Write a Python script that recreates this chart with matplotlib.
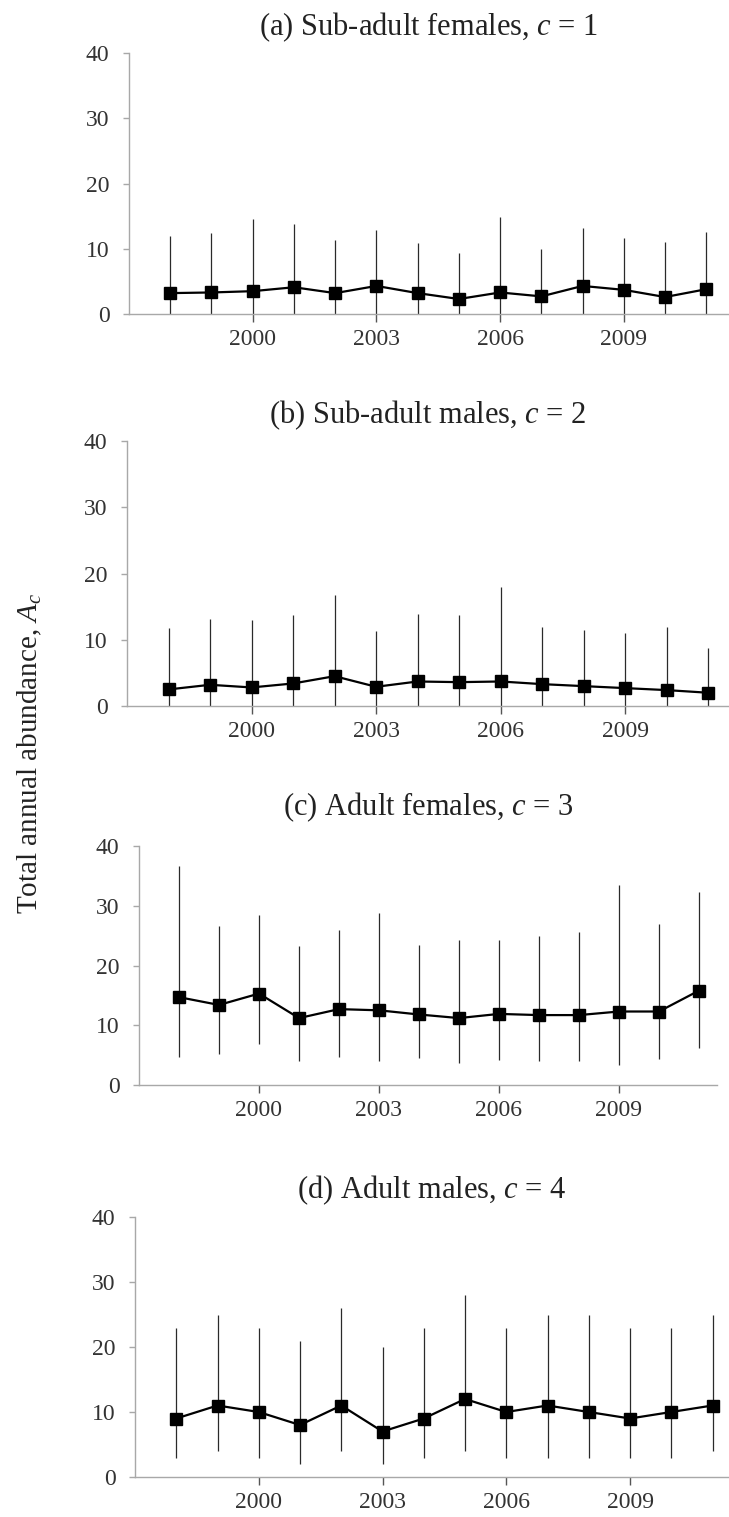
import numpy as np
import matplotlib
matplotlib.use("Agg")
import matplotlib.pyplot as plt

plt.rcParams['font.family'] = ['Liberation Serif', 'DejaVu Serif']
plt.rcParams['mathtext.fontset'] = 'custom'
plt.rcParams['mathtext.rm'] = 'Liberation Serif'
plt.rcParams['mathtext.it'] = 'Liberation Serif:italic'

years = np.arange(1998, 2012)

# (a) Sub-adult females
sub_f_mid = [3.2, 3.3, 3.5, 4.1, 3.2, 4.3, 3.2, 2.3, 3.3, 2.7, 4.3, 3.7, 2.6, 3.8]
sub_f_lo = [0, 0, 0, 0, 0, 0, 0, 0, 0, 0, 0, 0, 0, 0]
sub_f_hi = [11.9, 12.4, 14.5, 13.8, 11.3, 12.8, 10.9, 9.4, 14.9, 9.9, 13.2, 11.6, 11.0, 12.5]

# (b) Sub-adult males
sub_m_mid = [2.5, 3.2, 2.8, 3.4, 4.5, 2.9, 3.7, 3.6, 3.7, 3.3, 3.0, 2.7, 2.4, 2.0]
sub_m_lo = [0, 0, 0, 0, 0, 0, 0, 0, 0, 0, 0, 0, 0, 0]
sub_m_hi = [11.8, 13.1, 13.0, 13.7, 16.7, 11.3, 13.9, 13.7, 17.9, 12.0, 11.5, 11.0, 11.9, 8.7]

# (c) Adult females
ad_f_mid = [14.7, 13.4, 15.3, 11.2, 12.7, 12.5, 11.8, 11.2, 11.9, 11.7, 11.7, 12.3, 12.3, 15.8]
ad_f_lo = [4.7, 5.2, 6.8, 4.0, 4.7, 4.1, 4.5, 3.6, 4.2, 4.0, 4.0, 3.4, 4.4, 6.2]
ad_f_hi = [36.6, 26.6, 28.5, 23.2, 25.9, 28.8, 23.5, 24.2, 24.3, 25.0, 25.6, 33.5, 27.0, 32.3]

# (d) Adult males
ad_m_mid = [9, 11, 10, 8, 11, 7, 9, 12, 10, 11, 10, 9, 10, 11]
ad_m_lo = [3, 4, 3, 2, 4, 2, 3, 4, 3, 3, 3, 3, 3, 4]
ad_m_hi = [23, 25, 23, 21, 26, 20, 23, 28, 23, 25, 25, 23, 23, 25]

titles = ["(a) Sub-adult females, $c$ = 1",
          "(b) Sub-adult males, $c$ = 2",
          "(c) Adult females, $c$ = 3",
          "(d) Adult males, $c$ = 4"]
series = [(sub_f_mid, sub_f_lo, sub_f_hi),
          (sub_m_mid, sub_m_lo, sub_m_hi),
          (ad_f_mid, ad_f_lo, ad_f_hi),
          (ad_m_mid, ad_m_lo, ad_m_hi)]
year_ticks = [2000, 2003, 2006, 2009]
y_ticks = [0, 10, 20, 30, 40]

W, H = 729, 1517
fig = plt.figure(figsize=(W / 100, H / 100), dpi=100)

# panel boxes in pixels: left, right, y of 40, y of 0
boxes = [(129, 729, 53, 314),
         (127, 729, 441, 706),
         (139, 717, 846, 1085),
         (135, 729, 1217, 1477)]
title_y = [27, 415, 807, 1190]
xlims = [(1997, 2011.55), (1997, 2011.5), (1997, 2011.45), (1997, 2011.4)]

axis_col = '#a8a8a8'
for (l, r, t, b), title, ty, (mid, lo, hi), xl in zip(boxes, titles, title_y,
                                                      series, xlims):
    ax = fig.add_axes([l / W, 1 - b / H, (r - l) / W, (b - t) / H])
    mid = np.asarray(mid, float)
    lo = np.asarray(lo, float)
    hi = np.asarray(hi, float)
    ax.vlines(years, lo, hi, color='#2a2a2a', lw=0.9, zorder=2)
    ax.plot(years, mid, color='black', lw=1.6, marker='s', markersize=8.5,
            markerfacecolor='black', markeredgecolor='black', zorder=3,
            clip_on=False)
    ax.set_xlim(*xl)
    ax.set_ylim(0, 40)
    ax.set_xticks(year_ticks)
    ax.set_xticklabels([str(y) for y in year_ticks])
    ax.set_yticks(y_ticks)
    for s in ['top', 'right']:
        ax.spines[s].set_visible(False)
    for s in ['left', 'bottom']:
        ax.spines[s].set_color(axis_col)
        ax.spines[s].set_linewidth(1.0)
    ax.tick_params(axis='x', direction='out', length=6, width=1.0,
                   color='#555555', labelsize=17, labelcolor='#333333', pad=5)
    ax.tick_params(axis='y', direction='out', length=4, width=1.0,
                   color=axis_col, labelsize=17, labelcolor='#333333', pad=10)
    fig.text((l + r) / 2 / W, 1 - ty / H, title, ha='center', va='center',
             fontsize=22, color='#222222')

fig.text(30 / W, 1 - 753 / H, "Total annual abundance, $A_c$", rotation=90,
         ha='center', va='center', fontsize=21, color='#222222')

fig.savefig("out.png", dpi=100)
